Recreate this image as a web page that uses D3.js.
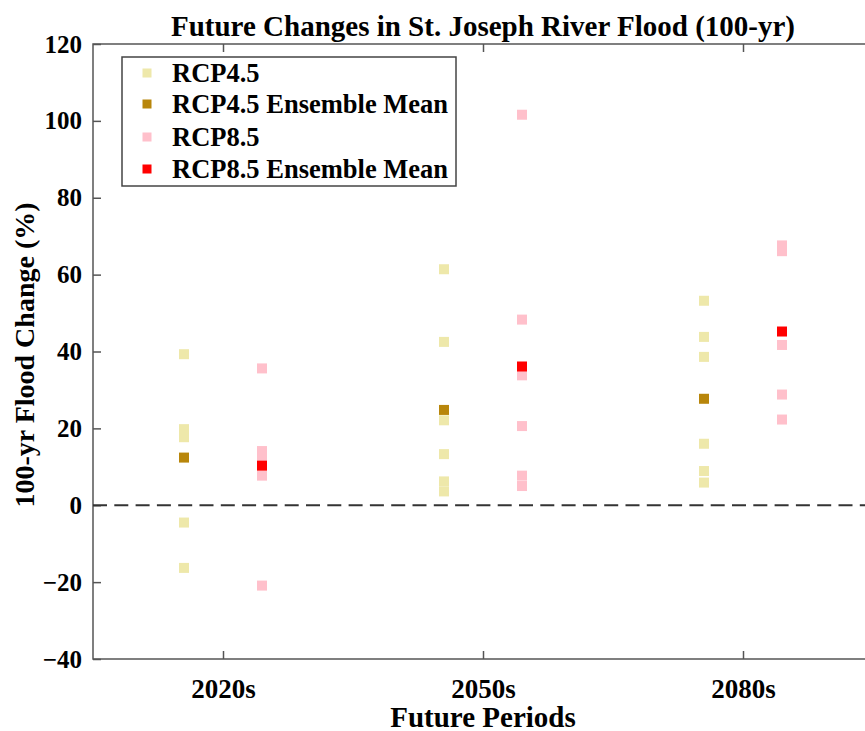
<!DOCTYPE html>
<html>
<head>
<meta charset="utf-8">
<script src="https://cdn.jsdelivr.net/npm/d3@7"></script>
<style>
  html, body { margin: 0; padding: 0; background: #fff; }
  svg { display: block; font-family: "Liberation Serif", "Times New Roman", serif; font-weight: bold; }
</style>
</head>
<body>
<svg id="chart" width="865" height="731"></svg>
<script>
// ---- Data ----
const periods = ["2020s", "2050s", "2080s"];
const yTicks = [-40, -20, 0, 20, 40, 60, 80, 100, 120];

const rcp45_2020s = [39.3, 19.8, 18.5, 17.7, -4.5, -16.3];
const rcp45_2050s = [61.4, 42.5, 22.1, 13.3, 6.2, 3.6];
const rcp45_2080s = [53.2, 43.8, 38.6, 16.0, 8.9, 5.9];

const rcp85_2020s = [35.6, 14.1, 12.8, 11.2, 7.7, -20.9];
const rcp85_2050s = [101.6, 48.3, 33.8, 20.6, 7.7, 5.0];
const rcp85_2080s = [67.6, 66.1, 41.7, 28.8, 22.3];

const rcp45_mean = [12.4, 24.8, 27.7];
const rcp85_mean = [10.3, 36.1, 45.2];

const legendLabels = ["RCP4.5", "RCP4.5 Ensemble Mean", "RCP8.5", "RCP8.5 Ensemble Mean"];
const colors = { rcp45: "#EEE8AA", rcp45m: "#B8860B", rcp85: "#FFC0CB", rcp85m: "#FF0000" };

// ---- Layout ----
const svg = d3.select("#chart");
const margin = { left: 93, right: 873, top: 44, bottom: 659 };

const x = d3.scaleLinear().domain([0.5, 3.5]).range([margin.left, margin.right]);
const y = d3.scaleLinear().domain([-40, 120]).range([margin.bottom, margin.top]);
const offset = 0.15;
const msize = 10;

const axisColor = "#555";

// frame
svg.append("rect")
  .attr("x", margin.left).attr("y", margin.top)
  .attr("width", margin.right - margin.left).attr("height", margin.bottom - margin.top)
  .attr("fill", "none").attr("stroke", axisColor).attr("stroke-width", 1.5);

// axes
const fmtPeriod = d => periods[d - 1];
const gLeft = svg.append("g").attr("transform", `translate(${margin.left},0)`)
  .call(d3.axisLeft(y).tickValues(yTicks).tickSize(-8).tickPadding(11).tickFormat(d3.format("d")));
const gRight = svg.append("g").attr("transform", `translate(${margin.right},0)`)
  .call(d3.axisRight(y).tickValues(yTicks).tickSize(-8).tickFormat(""));
const gBottom = svg.append("g").attr("transform", `translate(0,${margin.bottom})`)
  .call(d3.axisBottom(x).tickValues([1, 2, 3]).tickSize(-8).tickPadding(20).tickFormat(fmtPeriod));
const gTop = svg.append("g").attr("transform", `translate(0,${margin.top})`)
  .call(d3.axisTop(x).tickValues([1, 2, 3]).tickSize(-8).tickFormat(""));

[gLeft, gRight, gBottom, gTop].forEach(g => {
  g.select(".domain").remove();
  g.selectAll(".tick line").attr("stroke", axisColor).attr("stroke-width", 1.5);
  g.selectAll(".tick text")
    .attr("fill", "#000")
    .style("font-family", "'Liberation Serif', 'Times New Roman', serif")
    .style("font-weight", "bold")
    .style("font-size", "25px");
});
gBottom.selectAll(".tick text").style("font-size", "27px");

// zero dashed line
svg.append("line")
  .attr("x1", margin.left).attr("x2", margin.right)
  .attr("y1", y(0)).attr("y2", y(0))
  .attr("stroke", "#333").attr("stroke-width", 2).attr("stroke-dasharray", "14,7.3");

// points
function drawSquares(vals, period, dx, color) {
  svg.append("g").selectAll("rect").data(vals).join("rect")
    .attr("x", d => x(period + dx) - msize / 2)
    .attr("y", d => y(d) - msize / 2)
    .attr("width", msize).attr("height", msize)
    .attr("fill", color);
}
drawSquares(rcp45_2020s, 1, -offset, colors.rcp45);
drawSquares(rcp45_2050s, 2, -offset, colors.rcp45);
drawSquares(rcp45_2080s, 3, -offset, colors.rcp45);
drawSquares(rcp85_2020s, 1, offset, colors.rcp85);
drawSquares(rcp85_2050s, 2, offset, colors.rcp85);
drawSquares(rcp85_2080s, 3, offset, colors.rcp85);
rcp45_mean.forEach((v, i) => drawSquares([v], i + 1, -offset, colors.rcp45m));
rcp85_mean.forEach((v, i) => drawSquares([v], i + 1, offset, colors.rcp85m));

// title
svg.append("text")
  .attr("x", 483).attr("y", 36)
  .attr("text-anchor", "middle").style("font-size", "29px")
  .text("Future Changes in St. Joseph River Flood (100-yr)");

// axis labels
svg.append("text")
  .attr("x", 483).attr("y", 727)
  .attr("text-anchor", "middle").style("font-size", "29px")
  .text("Future Periods");
svg.append("text")
  .attr("transform", `translate(34,355) rotate(-90)`)
  .attr("text-anchor", "middle").style("font-size", "28px")
  .text("100-yr Flood Change (%)");

// legend
const legendColors = [colors.rcp45, colors.rcp45m, colors.rcp85, colors.rcp85m];
const lg = svg.append("g");
lg.append("rect")
  .attr("x", 122).attr("y", 57).attr("width", 334).attr("height", 129)
  .attr("fill", "#fff").attr("stroke", "#444").attr("stroke-width", 1.5);
const rowY = [73, 104, 137, 169];
legendLabels.forEach((lab, i) => {
  lg.append("rect")
    .attr("x", 147 - 4.5).attr("y", rowY[i] - 4.5)
    .attr("width", 9).attr("height", 9)
    .attr("fill", legendColors[i]);
  lg.append("text")
    .attr("x", 172).attr("y", rowY[i]).attr("dy", "0.35em")
    .style("font-size", "26.5px")
    .text(lab);
});
</script>
</body>
</html>
